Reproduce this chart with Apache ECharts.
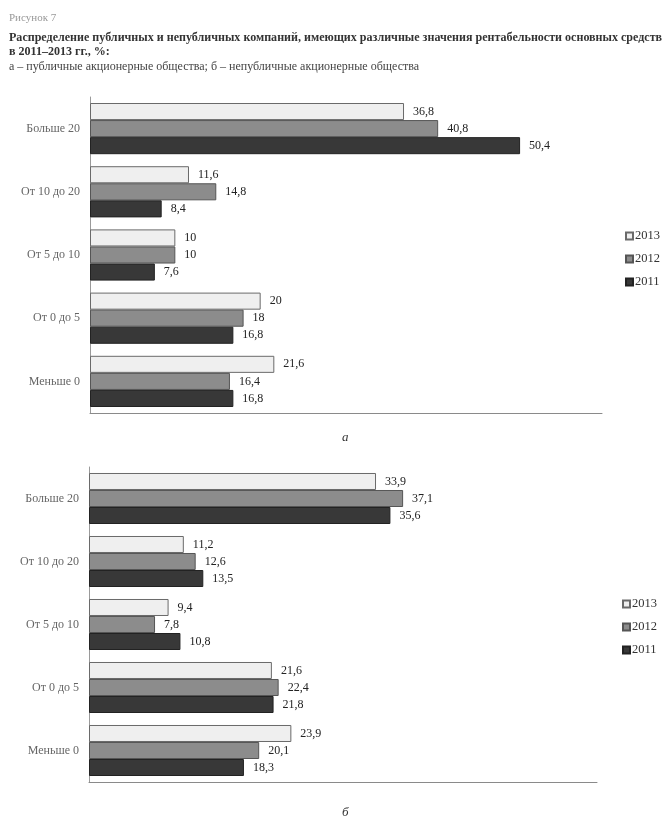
<!DOCTYPE html>
<html><head><meta charset="utf-8">
<script src="https://cdn.jsdelivr.net/npm/echarts@6/dist/echarts.min.js"></script>
<style>html,body{margin:0;padding:0;background:#fff}#c{width:672px;height:831px}</style>
</head><body><div id="c"></div>
<script>
const categories = ['Меньше 0','От 0 до 5','От 5 до 10','От 10 до 20','Больше 20'];
const years = ['2013','2012','2011'];
const a2013 = [21.6, 20, 10, 11.6, 36.8];
const a2012 = [16.4, 18, 10, 14.8, 40.8];
const a2011 = [16.8, 16.8, 7.6, 8.4, 50.4];
const b2013 = [23.9, 21.6, 9.4, 11.2, 33.9];
const b2012 = [20.1, 22.4, 7.8, 12.6, 37.1];
const b2011 = [18.3, 21.8, 10.8, 13.5, 35.6];

const FONT = "'Liberation Serif','Times New Roman',serif";
const styles = {
  '2013': {color:'#efefef', borderColor:'#6a6a6a', borderWidth:1},
  '2012': {color:'#8c8c8c', borderColor:'#555', borderWidth:1},
  '2011': {color:'#383838', borderColor:'#222', borderWidth:1}
};
function mk(name, data, idx){
  return {
    name, type:'bar', data, xAxisIndex:idx, yAxisIndex:idx,
    barGap:'0%', barCategoryGap:'19%',
    itemStyle: styles[name],
    label:{show:true, position:'right', distance:9, color:'#222', fontFamily:FONT, fontSize:12,
      formatter:p=>String(p.value).replace('.',',')},
    animation:false
  };
}
const chart = echarts.init(document.getElementById('c'));
const xa = (i)=>({type:'value', gridIndex:i, min:0, max:60, show:true,
  axisLabel:{show:false}, splitLine:{show:false}, axisTick:{show:false},
  axisLine:{show:true, lineStyle:{color:'#8a8a8a', width:1}}});
const ya = (i)=>({type:'category', gridIndex:i, data:categories,
  axisTick:{show:false}, axisLine:{show:true, lineStyle:{color:'#9a9a9a', width:1}},
  axisLabel:{color:'#666', fontFamily:FONT, fontSize:12, margin:10}});
const lg = (top,left)=>({data:years, orient:'vertical', left, top, itemWidth:7, itemHeight:7, itemGap:9,
  icon:'rect', textStyle:{fontFamily:FONT, fontSize:12.5, color:'#333', lineHeight:14, padding:[0,0,0,-3]}});
chart.setOption({
  backgroundColor:'#fff',
  title:[
    {text:'Рисунок 7', left:4, top:8, textStyle:{fontFamily:FONT, fontSize:11, fontWeight:'normal', color:'#999'}},
    {text:'Распределение публичных и непубличных компаний, имеющих различные значения рентабельности основных средств', left:4, top:27, textStyle:{fontFamily:FONT, fontSize:12.05, fontWeight:'bold', color:'#333'}},
    {text:'в 2011–2013 гг., %:', left:4, top:41, textStyle:{fontFamily:FONT, fontSize:12.05, fontWeight:'bold', color:'#333'}},
    {text:'а – публичные акционерные общества; б – непубличные акционерные общества', left:4, top:56, textStyle:{fontFamily:FONT, fontSize:12, fontWeight:'normal', color:'#444'}},
    {text:'а', left:337, top:426, textStyle:{fontFamily:FONT, fontSize:13, fontStyle:'italic', fontWeight:'normal', color:'#333'}},
    {text:'б', left:337, top:801, textStyle:{fontFamily:FONT, fontSize:13, fontStyle:'italic', fontWeight:'normal', color:'#333'}}
  ],
  legend:[lg(224,620), lg(592,617)],
  grid:[{left:90, top:97, width:512, height:316}, {left:89, top:467, width:508, height:315}],
  xAxis:[xa(0), xa(1)],
  yAxis:[ya(0), ya(1)],
  series:[
    mk('2013', a2013, 0), mk('2012', a2012, 0), mk('2011', a2011, 0),
    mk('2013', b2013, 1), mk('2012', b2012, 1), mk('2011', b2011, 1)
  ]
});
</script></body></html>
